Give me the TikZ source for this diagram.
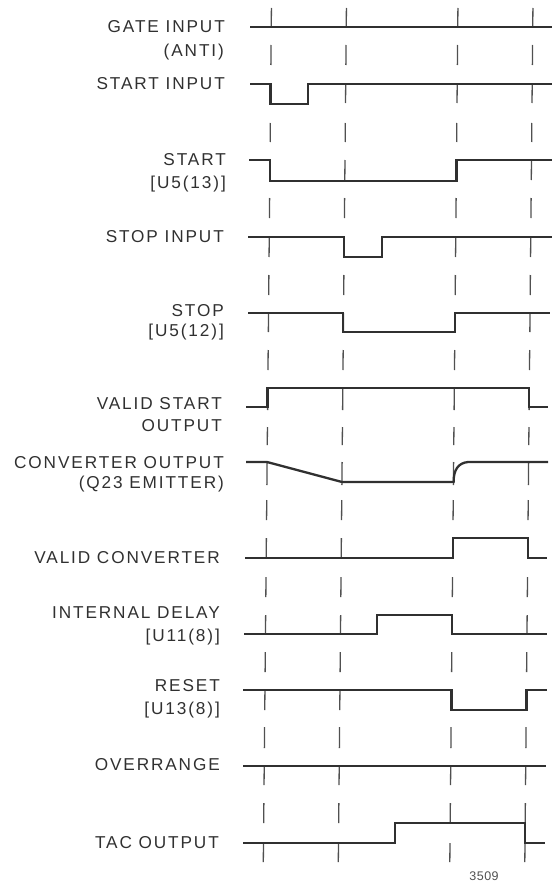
\documentclass[tikz,border=0pt]{standalone}
\usepackage{fontspec}
\newfontfamily\lblfont[LetterSpace=11]{Liberation Sans}
\newfontfamily\numfont[LetterSpace=4]{Liberation Sans}
\definecolor{ink}{HTML}{303030}
\definecolor{tickc}{HTML}{505050}
\begin{document}
\begin{tikzpicture}[x=1pt,y=-1pt,
  sig/.style={draw=ink,line width=2.3pt,line join=miter},
  tickln/.style={draw=tickc,line width=1.3pt},
  lbl/.style={anchor=east,inner sep=0pt,text=ink,font=\lblfont\fontsize{17.2}{17}\selectfont},
  num/.style={inner sep=0pt,text=tickc,font=\numfont\fontsize{12.5}{12.5}\selectfont}]
\useasboundingbox (0,0) rectangle (556,883);
% vertical dashed time markers
\foreach \a/\b in {8/27,45/65,84/103,123/142,160/180,198/218,237/257,275/295,313/332,350/370,388/410,427/445,462/485,500/520,538/558,577/597,615/634,652/672,690/710,727/748,766/785,803/823,843/862}
  \foreach \x in {271.5,346.5,458,533}
    \draw[tickln] ({\x-0.0095*\a},\a) -- ({\x-0.0095*\b},\b);
% signals
\draw[sig] (250,27) -- (552,27);
\draw[sig] (250,84) -- (270.5,84) -- (270.5,104) -- (308,104) -- (308,84) -- (552,84);
\draw[sig] (249,160) -- (270,160) -- (270,181) -- (456.5,181) -- (456.5,160) -- (552,160);
\draw[sig] (248,237) -- (343.8,237) -- (343.8,257) -- (382,257) -- (382,237) -- (552,237);
\draw[sig] (248,313) -- (343,313) -- (343,332) -- (455,332) -- (455,313) -- (550,313);
\draw[sig] (246,407) -- (267.6,407) -- (267.6,388) -- (529,388) -- (529,407) -- (548,407);
\draw[sig] (246,462) -- (267,462) -- (342,482) -- (453.6,482) .. controls (453.6,470) and (458,463) .. (468,462) -- (548,462);
\draw[sig] (245,558) -- (453,558) -- (453,538) -- (527.8,538) -- (527.8,558) -- (547,558);
\draw[sig] (244,634) -- (377,634) -- (377,615) -- (452,615) -- (452,634) -- (547,634);
\draw[sig] (243,690) -- (451.5,690) -- (451.5,710) -- (526.5,710) -- (526.5,690) -- (547,690);
\draw[sig] (243,766) -- (546,766);
\draw[sig] (243,843) -- (395,843) -- (395,823) -- (525,823) -- (525,843) -- (545,843);
% labels
\node[lbl] (l1a) at (225,27) {GATE INPUT};
\node[lbl] (l1b) at (224,52) {(ANTI)};
\node[lbl] (l2) at (225,84) {START INPUT};
\node[lbl] (l3a) at (226,160) {START};
\node[lbl] (l3b) at (226,184) {[U5(13)]};
\node[lbl] (l4) at (224,237) {STOP INPUT};
\node[lbl] (l5a) at (224,311) {STOP};
\node[lbl] (l5b) at (224,332) {[U5(12)]};
\node[lbl] (l6a) at (222,404) {VALID START};
\node[lbl] (l6b) at (222,426) {OUTPUT};
\node[lbl] (l7a) at (224,463) {CONVERTER OUTPUT};
\node[lbl] (l7b) at (224,484) {(Q23 EMITTER)};
\node[lbl] (l8) at (220,558) {VALID CONVERTER};
\node[lbl] (l9a) at (220,613) {INTERNAL DELAY};
\node[lbl] (l9b) at (220,637) {[U11(8)]};
\node[lbl] (l10a) at (220,686) {RESET};
\node[lbl] (l10b) at (220,710) {[U13(8)]};
\node[lbl] (l11) at (220,765) {OVERRANGE};
\node[lbl] (l12) at (219,843) {TAC OUTPUT};
\node[num] (fig) at (484,876) {3509};
\end{tikzpicture}
\end{document}
